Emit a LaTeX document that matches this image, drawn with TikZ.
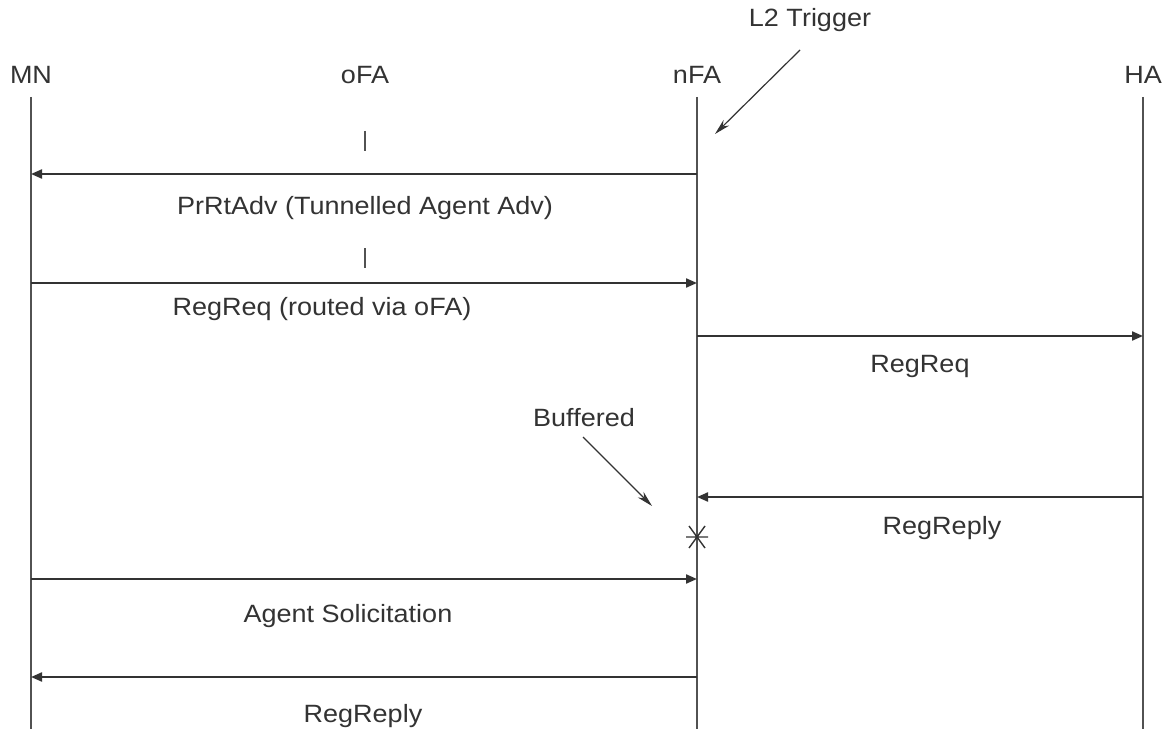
\documentclass[tikz,border=0pt]{standalone}
\usepackage{fontspec}
\setmainfont[FakeStretch=1.08]{Liberation Sans}
\usetikzlibrary{arrows.meta}
\definecolor{ink}{HTML}{333333}
\begin{document}
\begin{tikzpicture}[x=1pt,y=-1pt,
  lbl/.style={text=ink,font=\fontsize{25}{30}\selectfont,inner sep=0pt},
  life/.style={draw=ink!85,line width=2.4pt},
  msg/.style={draw=ink,line width=2.1pt,-{Triangle[length=11pt,width=9pt]}},
  note/.style={draw=ink,line width=1.2pt,-{Stealth[length=16pt,width=8pt]}}]
\useasboundingbox[fill=white] (0,0) rectangle (1167,733);

% participants
\node[lbl] (mn)  at (31,75)   {MN};
\node[lbl] (ofa) at (365,75)  {oFA};
\node[lbl] (nfa) at (697,75)  {nFA};
\node[lbl] (ha)  at (1143,75) {HA};

% lifelines
\coordinate (mnT) at (31,97);   \coordinate (mnB) at (31,729);
\coordinate (nfT) at (697,97);  \coordinate (nfB) at (697,729);
\coordinate (haT) at (1143,97); \coordinate (haB) at (1143,729);
\draw[life] (mnT) -- (mnB);
\draw[life] (nfT) -- (nfB);
\draw[life] (haT) -- (haB);

% oFA stubs
\coordinate (o1a) at (365,131); \coordinate (o1b) at (365,151);
\coordinate (o2a) at (365,248); \coordinate (o2b) at (365,268);
\draw[life] (o1a) -- (o1b);
\draw[life] (o2a) -- (o2b);

% message anchors
\coordinate (n1) at (697,174);  \coordinate (m1) at (31,174);
\coordinate (m2) at (31,283);   \coordinate (n2) at (697,283);
\coordinate (n3) at (697,336);  \coordinate (h3) at (1143,336);
\coordinate (h4) at (1143,497); \coordinate (n4) at (697,497);
\coordinate (m5) at (31,579);   \coordinate (n5) at (697,579);
\coordinate (n6) at (697,677);  \coordinate (m6) at (31,677);

\draw[msg] (n1) -- (m1);
\draw[msg] (m2) -- (n2);
\draw[msg] (n3) -- (h3);
\draw[msg] (h4) -- (n4);
\draw[msg] (m5) -- (n5);
\draw[msg] (n6) -- (m6);

% message labels
\node[lbl] (l1) at (365,208) {PrRtAdv (Tunnelled Agent Adv)};
\node[lbl] (l2) at (322,309) {RegReq (routed via oFA)};
\node[lbl] (l3) at (920,366) {RegReq};
\node[lbl] (l4) at (942,528) {RegReply};
\node[lbl] (l5) at (348,616) {Agent Solicitation};
\node[lbl] (l6) at (363,716) {RegReply};

% annotations
\node[lbl] (l2t) at (810,20) {L2 Trigger};
\coordinate (l2s) at (800,50);  \coordinate (l2e) at (715,134);
\draw[note] (l2s) -- (l2e);

\node[lbl] (buf) at (584,418) {Buffered};
\coordinate (bs) at (583,437);  \coordinate (be) at (652,506);
\draw[note] (bs) -- (be);

% buffering mark on nFA
\coordinate (star) at (697,537);
\draw[draw=ink,line width=1.4pt]
  (star) ++(-11,0) -- ++(22,0)
  (star) ++(-8,-11) -- ++(16,22)
  (star) ++(8,-11) -- ++(-16,22);
\end{tikzpicture}
\end{document}
